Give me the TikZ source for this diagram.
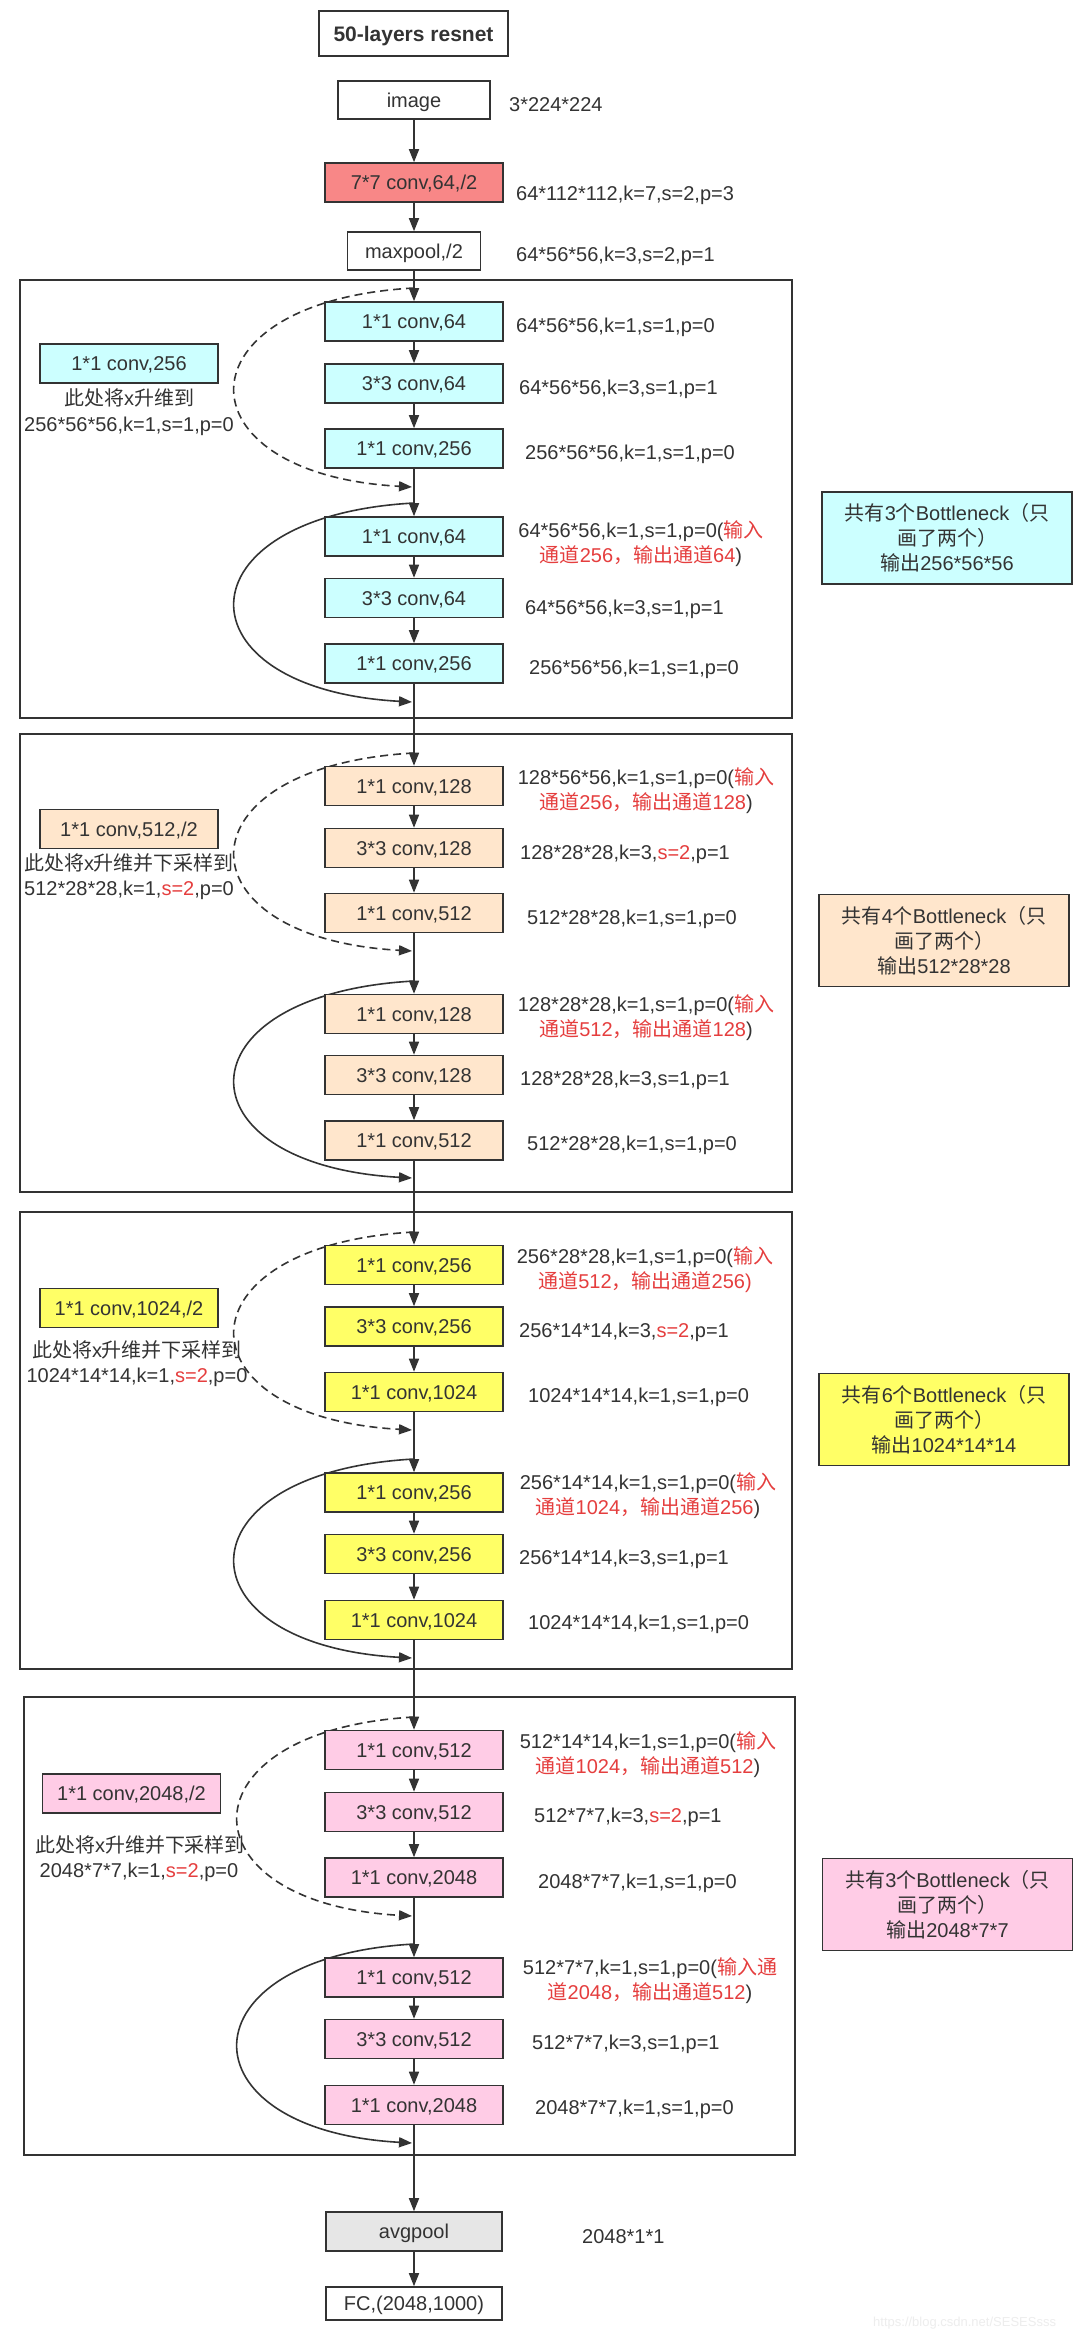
\documentclass[tikz,border=0pt]{standalone}
\usepackage{fontspec}
\setmainfont{Liberation Sans}
\newfontfamily\cjk{Noto Sans CJK SC}
\usetikzlibrary{arrows.meta}
\definecolor{ink}{HTML}{333333}
\definecolor{cyanf}{HTML}{CCFFFF}
\definecolor{peachf}{HTML}{FFE6CC}
\definecolor{yellowf}{HTML}{FFFF66}
\definecolor{pinkf}{HTML}{FFCCE6}
\definecolor{salmonf}{HTML}{F88787}
\definecolor{grayf}{HTML}{E6E6E6}
\definecolor{redt}{HTML}{E53E3E}
\newcommand{\zh}[1]{{\cjk #1}}
\newcommand{\rd}[1]{\textcolor{redt}{#1}}
\pgfdeclarelayer{bg}
\pgfsetlayers{bg,main}
\tikzset{
  base/.style={font=\fontsize{20}{25}\selectfont, text=ink, inner sep=0pt},
  blk/.style={base, draw=ink, line width=1.6pt, minimum width=178pt, minimum height=39pt, text height=14pt, text depth=0pt},
  lbl/.style={base, anchor=west, text height=14pt, text depth=0pt},
  ctxt/.style={base, text height=14pt, text depth=0pt},
  multi/.style={base, align=center},
  sumbox/.style={base, draw=ink, line width=1.6pt, align=center, minimum width=250pt, minimum height=92pt},
  frame/.style={draw=ink, line width=1.8pt},
  conn/.style={draw=ink, line width=1.6pt, -{Triangle[length=13pt,width=10pt]}},
  dconn/.style={conn, dash pattern=on 8pt off 5pt},
  cy/.style={fill=cyanf},
  pe/.style={fill=peachf},
  ye/.style={fill=yellowf},
  pk/.style={fill=pinkf},
}
\begin{document}
\begin{tikzpicture}[x=1pt,y=-1pt]
\useasboundingbox (0,0) rectangle (1080,2338);
% ---------- top ----------
\node[base, draw=ink, line width=1.6pt, minimum width=189pt, minimum height=45pt,
      font=\fontsize{21}{25}\selectfont\bfseries, text height=15pt, text depth=0pt] (title) at (413.5,33.5) {50-layers resnet};
\node[blk, minimum width=152pt, minimum height=38pt] (img) at (414,100) {image};
\node[lbl] (limg) at (509,104) {3*224*224};
\node[blk, fill=salmonf] (c7) at (414,182.5) {7*7 conv,64,/2};
\node[lbl] (lc7) at (516,193) {64*112*112,k=7,s=2,p=3};
\node[blk, minimum width=133pt, minimum height=38pt] (mp) at (414,251) {maxpool,/2};
\node[lbl] (lmp) at (516,254) {64*56*56,k=3,s=2,p=1};
% ---------- section 1 ----------
\node[blk,cy] (b11) at (414,321.5) {1*1 conv,64};
\node[blk,cy] (b12) at (414,383.5) {3*3 conv,64};
\node[blk,cy] (b13) at (414,448.5) {1*1 conv,256};
\node[blk,cy] (b14) at (414,536.5) {1*1 conv,64};
\node[blk,cy] (b15) at (414,598) {3*3 conv,64};
\node[blk,cy] (b16) at (414,663.5) {1*1 conv,256};
\node[blk,cy] (s1) at (129,363.5) {1*1 conv,256};
\node[ctxt] (s1a) at (129,398) {\zh{此处将}x\zh{升维到}};
\node[ctxt] (s1b) at (129,424) {256*56*56,k=1,s=1,p=0};
\node[lbl] (l11) at (516,325) {64*56*56,k=1,s=1,p=0};
\node[lbl] (l12) at (519,387) {64*56*56,k=3,s=1,p=1};
\node[lbl] (l13) at (525,452) {256*56*56,k=1,s=1,p=0};
\node[multi] (l14) at (641,543.5) {64*56*56,k=1,s=1,p=0(\rd{\zh{输入}}\\\rd{\zh{通道}256\zh{，输出通道}64})};
\node[lbl] (l15) at (525,607) {64*56*56,k=3,s=1,p=1};
\node[lbl] (l16) at (529,667) {256*56*56,k=1,s=1,p=0};
\node[sumbox,cy] (t1) at (947,538) {\zh{共有}3\zh{个}Bottleneck\zh{（只}\\\zh{画了两个）}\\\zh{输出}256*56*56};
% ---------- section 2 ----------
\node[blk,pe] (b21) at (414,786) {1*1 conv,128};
\node[blk,pe] (b22) at (414,848) {3*3 conv,128};
\node[blk,pe] (b23) at (414,913) {1*1 conv,512};
\node[blk,pe] (b24) at (414,1014) {1*1 conv,128};
\node[blk,pe] (b25) at (414,1075) {3*3 conv,128};
\node[blk,pe] (b26) at (414,1140.5) {1*1 conv,512};
\node[blk,pe] (s2) at (129,829) {1*1 conv,512,/2};
\node[ctxt] (s2a) at (129,863) {\zh{此处将}x\zh{升维并下采样到}};
\node[ctxt] (s2b) at (129,888) {512*28*28,k=1,\rd{s=2},p=0};
\node[multi] (l21) at (646,790.5) {128*56*56,k=1,s=1,p=0(\rd{\zh{输入}}\\\rd{\zh{通道}256\zh{，输出通道}128})};
\node[lbl] (l22) at (520,852) {128*28*28,k=3,\rd{s=2},p=1};
\node[lbl] (l23) at (527,917) {512*28*28,k=1,s=1,p=0};
\node[multi] (l24) at (646,1017.5) {128*28*28,k=1,s=1,p=0(\rd{\zh{输入}}\\\rd{\zh{通道}512\zh{，输出通道}128})};
\node[lbl] (l25) at (520,1078) {128*28*28,k=3,s=1,p=1};
\node[lbl] (l26) at (527,1143) {512*28*28,k=1,s=1,p=0};
\node[sumbox,pe] (t2) at (944,940.5) {\zh{共有}4\zh{个}Bottleneck\zh{（只}\\\zh{画了两个）}\\\zh{输出}512*28*28};
% ---------- section 3 ----------
\node[blk,ye] (b31) at (414,1265) {1*1 conv,256};
\node[blk,ye] (b32) at (414,1326.5) {3*3 conv,256};
\node[blk,ye] (b33) at (414,1392) {1*1 conv,1024};
\node[blk,ye] (b34) at (414,1492.5) {1*1 conv,256};
\node[blk,ye] (b35) at (414,1554) {3*3 conv,256};
\node[blk,ye] (b36) at (414,1620) {1*1 conv,1024};
\node[blk,ye] (s3) at (129,1308) {1*1 conv,1024,/2};
\node[ctxt] (s3a) at (137,1350) {\zh{此处将}x\zh{升维并下采样到}};
\node[ctxt] (s3b) at (137,1375) {1024*14*14,k=1,\rd{s=2},p=0};
\node[multi] (l31) at (645,1269.5) {256*28*28,k=1,s=1,p=0(\rd{\zh{输入}}\\\rd{\zh{通道}512\zh{，输出通道}256)}};
\node[lbl] (l32) at (519,1330) {256*14*14,k=3,\rd{s=2},p=1};
\node[lbl] (l33) at (528,1395) {1024*14*14,k=1,s=1,p=0};
\node[multi] (l34) at (648,1495.5) {256*14*14,k=1,s=1,p=0(\rd{\zh{输入}}\\\rd{\zh{通道}1024\zh{，输出通道}256})};
\node[lbl] (l35) at (519,1557) {256*14*14,k=3,s=1,p=1};
\node[lbl] (l36) at (528,1622) {1024*14*14,k=1,s=1,p=0};
\node[sumbox,ye] (t3) at (944,1419.5) {\zh{共有}6\zh{个}Bottleneck\zh{（只}\\\zh{画了两个）}\\\zh{输出}1024*14*14};
% ---------- section 4 ----------
\node[blk,pk] (b41) at (414,1750) {1*1 conv,512};
\node[blk,pk] (b42) at (414,1812) {3*3 conv,512};
\node[blk,pk] (b43) at (414,1877.5) {1*1 conv,2048};
\node[blk,pk] (b44) at (414,1977.5) {1*1 conv,512};
\node[blk,pk] (b45) at (414,2039) {3*3 conv,512};
\node[blk,pk] (b46) at (414,2105) {1*1 conv,2048};
\node[blk,pk] (s4) at (131.5,1793.5) {1*1 conv,2048,/2};
\node[ctxt] (s4a) at (140,1845) {\zh{此处将}x\zh{升维并下采样到}};
\node[ctxt] (s4b) at (139,1870) {2048*7*7,k=1,\rd{s=2},p=0};
\node[multi] (l41) at (648,1754.5) {512*14*14,k=1,s=1,p=0(\rd{\zh{输入}}\\\rd{\zh{通道}1024\zh{，输出通道}512})};
\node[lbl] (l42) at (534,1815) {512*7*7,k=3,\rd{s=2},p=1};
\node[lbl] (l43) at (538,1881) {2048*7*7,k=1,s=1,p=0};
\node[multi] (l44) at (650,1980.5) {512*7*7,k=1,s=1,p=0(\rd{\zh{输入通}}\\\rd{\zh{道}2048\zh{，输出通道}512})};
\node[lbl] (l45) at (532,2042) {512*7*7,k=3,s=1,p=1};
\node[lbl] (l46) at (535,2107) {2048*7*7,k=1,s=1,p=0};
\node[sumbox,pk] (t4) at (947.5,1904.5) {\zh{共有}3\zh{个}Bottleneck\zh{（只}\\\zh{画了两个）}\\\zh{输出}2048*7*7};
% ---------- bottom ----------
\node[blk, fill=grayf, minimum width=176pt] (avg) at (414,2231.5) {avgpool};
\node[lbl] (lavg) at (582,2236) {2048*1*1};
\node[blk, minimum width=176pt, minimum height=33pt] (fc) at (414,2303.5) {FC,(2048,1000)};
\node[base, anchor=west, font=\fontsize{13}{15}\selectfont, text=black!7] (wm) at (873,2323) {https://blog.csdn.net/SESESsss};
% ---------- background layer: frames and connectors ----------
\begin{pgfonlayer}{bg}
\fill[white] (0,0) rectangle (1080,2338);
\draw[frame] (20,280) rectangle (792,718);
\draw[frame] (20,734) rectangle (792,1192);
\draw[frame] (20,1212) rectangle (792,1669);
\draw[frame] (24,1697) rectangle (795,2155);
\draw[conn] (img) -- (c7);
\draw[conn] (c7) -- (mp);
\draw[conn] (mp) -- (b11);
\draw[conn] (b11) -- (b12);
\draw[conn] (b12) -- (b13);
\draw[conn] (b13) -- (b14);
\draw[conn] (b14) -- (b15);
\draw[conn] (b15) -- (b16);
\draw[conn] (b16) -- (b21);
\draw[conn] (b21) -- (b22);
\draw[conn] (b22) -- (b23);
\draw[conn] (b23) -- (b24);
\draw[conn] (b24) -- (b25);
\draw[conn] (b25) -- (b26);
\draw[conn] (b26) -- (b31);
\draw[conn] (b31) -- (b32);
\draw[conn] (b32) -- (b33);
\draw[conn] (b33) -- (b34);
\draw[conn] (b34) -- (b35);
\draw[conn] (b35) -- (b36);
\draw[conn] (b36) -- (b41);
\draw[conn] (b41) -- (b42);
\draw[conn] (b42) -- (b43);
\draw[conn] (b43) -- (b44);
\draw[conn] (b44) -- (b45);
\draw[conn] (b45) -- (b46);
\draw[conn] (b46) -- (avg);
\draw[conn] (avg) -- (fc);
% shortcut curves
\coordinate (d1s) at (414,288);  \coordinate (d1e) at (412,487);
\coordinate (r1s) at (414,503);  \coordinate (r1e) at (412,702);
\coordinate (d2s) at (414,753);  \coordinate (d2e) at (412,951);
\coordinate (r2s) at (414,981);  \coordinate (r2e) at (412,1178);
\coordinate (d3s) at (414,1232); \coordinate (d3e) at (412,1430);
\coordinate (r3s) at (414,1459); \coordinate (r3e) at (412,1658);
\coordinate (d4s) at (414,1717); \coordinate (d4e) at (412,1916);
\coordinate (r4s) at (414,1944); \coordinate (r4e) at (412,2143);
\draw[dconn] (d1s) .. controls (176,301) and (176,474) .. (d1e);
\draw[conn]  (r1s) .. controls (176,516) and (176,689) .. (r1e);
\draw[dconn] (d2s) .. controls (176,766) and (176,938) .. (d2e);
\draw[conn]  (r2s) .. controls (176,994) and (176,1165) .. (r2e);
\draw[dconn] (d3s) .. controls (176,1245) and (176,1417) .. (d3e);
\draw[conn]  (r3s) .. controls (176,1472) and (176,1645) .. (r3e);
\draw[dconn] (d4s) .. controls (180,1730) and (180,1903) .. (d4e);
\draw[conn]  (r4s) .. controls (180,1957) and (180,2130) .. (r4e);
\end{pgfonlayer}
\end{tikzpicture}
\end{document}
